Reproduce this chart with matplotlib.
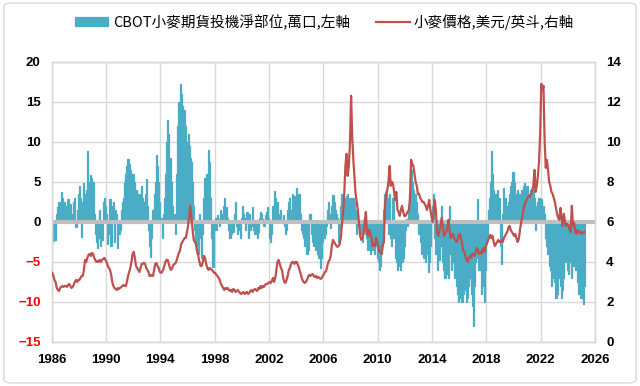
import numpy as np
import pandas as pd
import matplotlib
matplotlib.use("Agg")
import matplotlib.pyplot as plt
from matplotlib.patches import FancyBboxPatch

plt.rcParams['font.family'] = ['Liberation Sans', 'Noto Sans CJK TC', 'DejaVu Sans']

# CBOT wheat net speculative position (10k contracts), monthly, Jan 1986 - Mar 2025
net_pos = [
    -2.0, -2.4, -1.2, -2.3, 1.0, 1.8, 2.5, 1.5, 3.7, 3.0, 1.8, 2.5,      # 1986
    2.0, 1.5, 2.8, 1.2, 2.2, 1.0, 0.8, 2.5, 3.0, -0.6, 1.5, 3.5,          # 1987
    4.5, 3.0, -1.9, 2.5, 4.8, 3.5, 4.0, 8.8, 5.0, 4.5, 5.8, 5.5,          # 1988
    5.0, 1.0, -1.5, -2.5, -3.2, -2.0, 1.5, -3.0, -2.2, 2.5, 3.0, 2.0,     # 1989
    1.0, -2.8, -1.5, 2.8, -3.0, 2.0, 2.5, -2.5, 1.5, 1.0, -3.3, -1.5,     # 1990
    -1.0, 1.5, 2.5, 3.0, 5.0, 6.0, 7.0, 7.8, 7.2, 6.5, 6.0, 5.5,          # 1991
    6.0, 5.0, 4.0, 3.5, 2.5, 3.5, 2.0, 4.5, 3.0, 2.5, 3.5, 5.3,           # 1992
    2.0, -1.0, -3.0, -4.4, -2.0, 1.5, 3.5, 5.0, 8.3, 7.0, 5.0, 2.5,       # 1993
    0.5, -2.0, 1.0, 3.0, 6.0, 10.0, 12.7, 11.0, 8.0, 5.0, 2.0, 0.5,       # 1994
    1.0, -1.5, 6.0, 12.0, 15.0, 17.2, 16.0, 14.5, 13.0, 14.0, 12.0, 10.0, # 1995
    11.0, 9.5, 8.0, 7.5, 5.0, 2.0, -1.0, -3.0, -2.5, -4.0, 1.0, -2.0,     # 1996
    -4.5, -1.5, 3.0, 5.5, 6.0, 4.0, 9.0, 7.5, 3.0, -2.0, -5.6, -1.0,      # 1997
    0.5, -1.0, 0.8, 0.3, -0.5, 1.5, 1.0, 2.0, 3.0, 1.2, 1.8, 0.5,         # 1998
    -1.0, -2.0, -1.5, -0.8, -1.2, 1.0, 2.5, -0.5, -1.5, -1.0, -2.0, 0.5,  # 1999
    2.0, 1.0, 0.5, -1.0, 1.2, -2.0, 1.0, -1.0, -0.5, 1.8, -1.0, -1.5,     # 2000
    -1.5, -2.0, -1.2, 0.5, 1.2, 1.0, 0.3, -0.5, 0.8, 1.2, 1.8, 0.5,       # 2001
    -2.0, -2.5, -1.5, 2.0, 3.8, 3.0, 2.0, 2.5, 0.5, 1.0, 1.5, 0.2,        # 2002
    0.8, -0.5, -1.5, -1.0, 1.5, 2.5, 3.0, 1.5, 3.5, 2.0, 3.2, 2.8,        # 2003
    4.2, 3.0, 3.5, 1.0, -1.0, -1.5, -2.0, -3.0, -2.5, -4.0, -3.5, 1.0,    # 2004
    1.0, -1.5, -2.5, -3.0, -2.0, -3.5, -4.0, -4.5, -3.0, -5.8, -4.5, -2.5,  # 2005
    -2.0, -1.5, -0.5, 1.5, 2.5, 1.0, -0.8, 2.0, 3.3, 2.5, 1.5, 1.0,       # 2006
    0.5, -2.5, -1.0, 2.0, 3.5, 2.8, 3.0, 2.5, 3.2, 3.5, 2.0, 3.0,         # 2007
    3.0, 2.5, 3.0, 2.5, 1.5, -1.5, 1.0, -0.5, -1.5, -1.5, -2.5, -1.0,     # 2008
    0.5, -1.5, -2.0, -3.5, -2.5, -4.0, -3.0, -3.5, -2.0, -4.0, -3.0, -4.5,  # 2009
    -5.0, -6.0, -5.5, -4.0, -2.0, 1.5, 3.5, 4.0, 3.0, -1.5, 3.5, -2.0,    # 2010
    -3.0, 3.0, -2.0, -4.5, -5.0, -6.0, -5.5, -4.0, -6.0, -5.0, -4.5, -3.0,  # 2011
    -1.0, 0.3, -0.5, 1.5, 3.5, 6.5, 5.0, 4.0, 3.0, 3.5, 2.5, 1.0,         # 2012
    -1.5, -2.5, -4.0, -3.0, -4.5, -3.5, -5.0, -4.0, -6.2, -5.0, -3.0, 1.0,  # 2013
    2.0, 3.5, -2.0, -4.0, -6.0, -4.5, -4.8, -3.0, 2.0, -5.0, -6.0, -7.0,  # 2014
    -6.5, -5.0, -7.0, 2.0, -4.0, -6.0, -5.0, -7.0, -6.0, -8.0, -9.0, -10.0,  # 2015
    -9.5, -8.0, -10.0, -9.0, -7.0, -8.5, -10.0, -9.5, -8.0, -7.0, -9.0, -10.5,  # 2016
    -13.0, -8.0, -5.0, -4.5, 2.8, -6.0, -3.0, -9.0, -7.0, -8.0, -10.0, -6.0,  # 2017
    -2.0, 1.5, 3.0, 5.0, 8.8, 6.0, 4.0, 3.0, 3.5, 4.0, 2.5, 3.0,          # 2018
    -3.0, -5.2, 1.0, 4.2, 3.0, 2.0, 1.0, 2.5, 3.5, 4.5, 5.0, 6.2,         # 2019
    5.0, 3.0, 3.5, 4.0, 3.0, 3.5, 3.0, 4.0, 4.5, 4.8, 4.5, 4.0,           # 2020
    4.5, 3.5, 3.0, 4.0, 3.5, 4.5, 3.0, -1.0, 2.0, 2.5, 3.0, 2.5,          # 2021
    2.8, 1.5, 2.0, 1.0, -2.0, -3.0, -4.0, -5.5, -6.0, -8.0, -7.0, -6.0,   # 2022
    -7.5, -9.5, -9.0, -5.0, -7.0, -8.0, -9.5, -8.5, -7.0, -5.0, -4.0, -6.0,  # 2023
    -6.5, -5.0, -4.0, -7.0, -5.5, -4.0, -6.0, -5.0, -7.5, -9.0, -8.0, -9.5,  # 2024
    -9.5, -10.3, -8.0,                                                    # 2025
]

# wheat price, USD per bushel, same months
price = [
    3.45, 3.3, 3.1, 3.0, 2.7, 2.6, 2.55, 2.7, 2.75, 2.8, 2.75, 2.8,       # 1986
    2.8, 2.75, 2.85, 2.9, 2.8, 2.7, 2.75, 2.85, 3.0, 3.1, 3.0, 3.1,       # 1987
    3.1, 3.2, 3.3, 3.3, 3.6, 4.1, 4.0, 4.2, 4.35, 4.4, 4.3, 4.45,         # 1988
    4.4, 4.2, 4.1, 4.0, 4.05, 4.0, 4.1, 4.0, 4.1, 4.15, 4.2, 4.1,         # 1989
    4.0, 3.8, 3.7, 3.6, 3.4, 3.0, 2.8, 2.7, 2.65, 2.6, 2.7, 2.65,         # 1990
    2.7, 2.75, 2.8, 2.85, 2.8, 2.8, 3.0, 3.3, 3.5, 3.7, 4.0, 4.4,         # 1991
    4.5, 4.2, 3.8, 3.7, 3.6, 3.5, 3.7, 3.9, 3.9, 3.95, 3.9, 3.7,          # 1992
    3.6, 3.5, 3.3, 3.3, 3.35, 3.3, 3.6, 3.9, 3.95, 3.8, 3.7, 3.5,         # 1993
    3.45, 3.5, 3.6, 3.8, 4.0, 4.1, 4.1, 3.9, 3.7, 3.6, 3.7, 3.85,         # 1994
    3.9, 3.95, 4.1, 4.3, 4.45, 4.6, 4.9, 5.0, 5.1, 5.2, 5.2, 5.5,         # 1995
    5.8, 6.3, 6.8, 6.2, 5.6, 5.1, 5.0, 4.9, 4.5, 4.3, 4.0, 3.8,           # 1996
    3.8, 4.0, 4.3, 4.2, 3.9, 3.7, 3.6, 3.7, 3.65, 3.6, 3.55, 3.45,        # 1997
    3.45, 3.35, 3.3, 3.2, 3.1, 2.9, 2.8, 2.7, 2.6, 2.7, 2.65, 2.7,        # 1998
    2.6, 2.55, 2.6, 2.5, 2.65, 2.6, 2.5, 2.55, 2.6, 2.5, 2.45, 2.4,       # 1999
    2.45, 2.5, 2.4, 2.45, 2.5, 2.4, 2.45, 2.55, 2.6, 2.5, 2.6, 2.65,      # 2000
    2.6, 2.55, 2.7, 2.65, 2.8, 2.7, 2.8, 2.75, 2.85, 2.9, 2.9, 2.95,      # 2001
    3.0, 2.95, 3.05, 3.2, 3.0, 3.2, 3.6, 4.0, 4.1, 3.9, 3.7, 3.6,         # 2002
    3.2, 3.0, 2.95, 3.1, 3.3, 3.6, 3.7, 3.9, 4.0, 4.0, 3.9, 4.0,          # 2003
    4.0, 3.85, 3.7, 3.5, 3.3, 3.1, 3.0, 2.95, 3.0, 3.1, 3.25, 3.35,       # 2004
    3.3, 3.35, 3.4, 3.3, 3.25, 3.3, 3.2, 3.25, 3.2, 3.15, 3.2, 3.3,       # 2005
    3.4, 3.5, 3.55, 3.8, 4.0, 4.1, 4.3, 4.8, 5.1, 5.0, 4.9, 4.8,          # 2006
    4.75, 4.8, 4.9, 5.2, 5.9, 6.5, 7.4, 8.8, 9.4, 8.3, 8.8, 9.9,          # 2007
    12.3, 10.2, 9.1, 8.2, 7.4, 7.0, 6.6, 5.9, 5.3, 5.1, 5.2, 5.4,         # 2008
    6.0, 6.5, 5.5, 5.3, 5.6, 5.4, 5.2, 4.8, 4.9, 4.8, 5.2, 5.0,           # 2009
    4.8, 4.5, 4.5, 4.4, 4.8, 5.0, 6.9, 7.4, 7.6, 8.0, 8.8, 7.8,           # 2010
    8.0, 7.9, 7.5, 7.1, 7.5, 6.6, 6.5, 6.3, 6.6, 6.8, 6.5, 6.3,           # 2011
    6.3, 6.4, 6.5, 6.6, 7.1, 9.1, 8.9, 8.8, 8.4, 8.0, 7.8, 7.4,           # 2012
    7.4, 7.2, 7.1, 7.0, 7.0, 6.9, 6.8, 6.6, 6.8, 7.1, 6.6, 6.3,           # 2013
    6.0, 6.6, 7.1, 6.5, 5.5, 5.3, 5.5, 5.8, 6.2, 5.8, 5.3, 5.4,           # 2014
    5.5, 5.7, 6.1, 5.6, 5.2, 5.3, 5.4, 5.2, 5.1, 5.0, 5.1, 5.3,           # 2015
    5.4, 5.2, 4.9, 4.6, 4.5, 4.3, 4.1, 4.0, 4.2, 4.3, 4.2, 4.4,           # 2016
    4.4, 4.3, 4.5, 4.7, 4.6, 4.4, 4.5, 4.4, 4.6, 4.7, 4.5, 4.8,           # 2017
    4.9, 5.1, 5.2, 5.35, 5.2, 5.3, 5.0, 4.8, 4.9, 5.0, 5.1, 5.0,          # 2018
    5.0, 5.1, 5.0, 5.2, 5.3, 5.4, 5.5, 5.7, 5.8, 5.6, 5.5, 5.4,           # 2019
    5.3, 5.4, 5.2, 5.0, 5.1, 5.5, 5.9, 6.2, 6.5, 6.8, 7.0, 7.1,           # 2020
    7.2, 7.3, 7.25, 7.4, 7.6, 7.8, 8.6, 7.5, 7.8, 8.3, 9.0, 10.4,         # 2021
    12.9, 12.6, 12.8, 10.0, 8.7, 9.1, 8.6, 8.0, 7.8, 7.5, 7.4, 7.2,       # 2022
    7.0, 6.7, 6.4, 6.2, 6.1, 6.7, 6.2, 5.8, 6.4, 6.0, 5.8, 5.9,           # 2023
    5.8, 5.6, 5.5, 6.8, 5.8, 5.95, 5.5, 5.4, 5.6, 5.5, 5.45, 5.5,         # 2024
    5.4, 5.45, 5.5,                                                       # 2025
]

label_bar = "CBOT小麥期貨投機淨部位,萬口,左軸"
label_line = "小麥價格,美元/英斗,右軸"
tick_years = list(range(1986, 2027, 4))

dates = pd.date_range("1986-01-01", periods=len(net_pos), freq="MS") + pd.Timedelta(days=15)

bar_color = "#4BACC6"
line_color = "#C0504D"
grid_color = "#D9D9D9"

fig = plt.figure(figsize=(6.4, 3.86), dpi=100)
ax = fig.add_axes([0.0808, 0.114, 0.849, 0.726])
ax2 = ax.twinx()

bars = ax.bar(dates, net_pos, width=31, color=bar_color, edgecolor=bar_color,
              linewidth=0.9, zorder=2, label=label_bar)
ax.axhline(0, color="#BFBFBF", lw=3, zorder=3)
line, = ax2.plot(dates, price, color=line_color, lw=1.6, zorder=4, label=label_line)

ax.set_xlim(pd.Timestamp("1986-01-01"), pd.Timestamp("2026-01-01"))
ax.set_ylim(-15, 20)
ax2.set_ylim(0, 14)
ax.set_yticks(range(-15, 21, 5))
ax2.set_yticks(range(0, 15, 2))
ax.set_xticks([pd.Timestamp(f"{y}-01-01") for y in tick_years])
ax.set_xticklabels([str(y) for y in tick_years])

ax.grid(True, color=grid_color, lw=1, zorder=0)
ax.set_axisbelow(True)
for a in (ax, ax2):
    for s in a.spines.values():
        s.set_color(grid_color)
        s.set_linewidth(1)
    a.tick_params(length=0, labelsize=9.5)

for lab in ax.get_xticklabels() + ax.get_yticklabels() + ax2.get_yticklabels():
    lab.set_fontweight("bold")
ax.tick_params(axis="x", pad=9)
ax.tick_params(axis="y", pad=8)
ax2.tick_params(axis="y", pad=8)
for lab, v in zip(ax.get_yticklabels(), ax.get_yticks()):
    lab.set_color("#FF0000" if v < 0 else "black")

fig.legend([bars, line], [label_bar, label_line], loc="center",
           bbox_to_anchor=(0.507, 1 - 22 / 386), ncol=2, frameon=False,
           prop={"family": ["Noto Sans CJK TC"], "size": 10.5},
           handlelength=2.3, handleheight=0.6, columnspacing=1.8, handletextpad=0.3)

fig.patches.append(FancyBboxPatch((0.006, 0.008), 0.988, 0.984, boxstyle="round,pad=0,rounding_size=0.01",
                                  transform=fig.transFigure, fill=False, ec=grid_color, lw=1))

fig.savefig("out.png", dpi=100)
